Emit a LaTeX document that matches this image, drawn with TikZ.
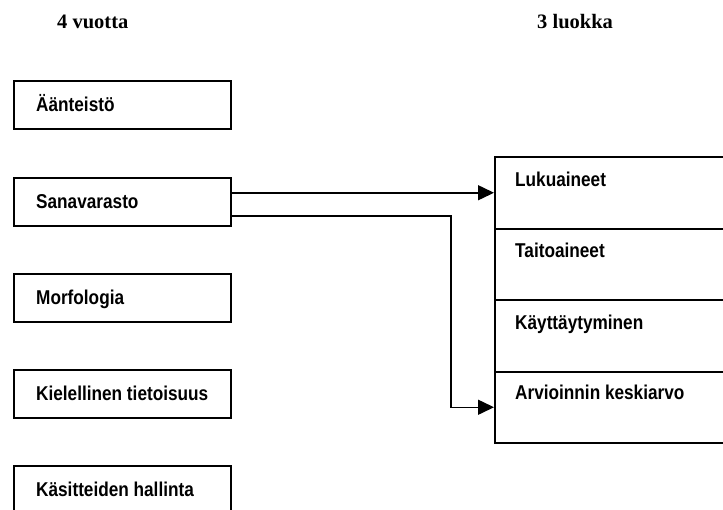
\documentclass[tikz,border=0pt]{standalone}
\usepackage{fontspec}
\usetikzlibrary{arrows.meta,calc}
\newfontfamily\boxfont{Liberation Sans}[FakeStretch=0.86]
\newfontfamily\headfont{Liberation Serif}
\newcommand\lefttxt[1]{\makebox[173pt][l]{#1}}
\tikzset{
  lbox/.style={draw, line width=2.4pt, inner xsep=22pt, inner ysep=0pt,
    minimum width=217pt, minimum height=48pt, text height=15pt, text depth=3pt,
    font=\boxfont\bfseries\fontsize{20}{24}\selectfont, anchor=north west},
  cell/.style={draw, line width=2pt, inner sep=0pt,
    minimum width=250pt, minimum height=71.5pt, anchor=north west},
  celltext/.style={inner sep=0pt, anchor=base west,
    font=\boxfont\bfseries\fontsize{20}{24}\selectfont},
  head/.style={inner sep=0pt, anchor=base west,
    font=\headfont\bfseries\fontsize{20.5}{24}\selectfont},
  conn/.style={line width=1.5pt, -{Triangle[length=16pt,width=15pt]}}
}
\begin{document}
\begin{tikzpicture}[x=1pt,y=-1pt]
\useasboundingbox (0,0) rectangle (723,509);
\clip (0,0) rectangle (723,509);

% column headings
\node[head] (h4) at (57,28) {4 vuotta};
\node[head] (h3) at (537,28) {3 luokka};

% left column
\node[lbox] (aan)  at (13,80)  {\lefttxt{Äänteistö}};
\node[lbox] (sana) at (13,177) {\lefttxt{Sanavarasto}};
\node[lbox] (morf) at (13,273) {\lefttxt{Morfologia}};
\node[lbox] (kiel) at (13,369) {\lefttxt{Kielellinen tietoisuus}};
\node[lbox] (kas)  at (13,465) {\lefttxt{Käsitteiden hallinta}};

% right column: stacked cells
\node[cell] (luku)  at (494,156)   {};
\node[cell] (taito) at (494,227.5) {};
\node[cell] (kayt)  at (494,299)   {};
\node[cell] (arv)   at (494,370.5) {};
\node[celltext] (lukut)  at ($(luku.north west)+(21,30)$)  {Lukuaineet};
\node[celltext] (taitot) at ($(taito.north west)+(21,30)$) {Taitoaineet};
\node[celltext] (kaytt)  at ($(kayt.north west)+(21,30)$)  {Käyttäytyminen};
\node[celltext] (arvt)   at ($(arv.north west)+(21,29)$)   {Arvioinnin keskiarvo};

% connectors
\draw[conn] (luku.west -| sana.east) -- (luku.west);
\draw[conn] ($(sana.east)+(0,14)$) -| ($(arv.west)+(-43,0)$) -- (arv.west);
\end{tikzpicture}
\end{document}
